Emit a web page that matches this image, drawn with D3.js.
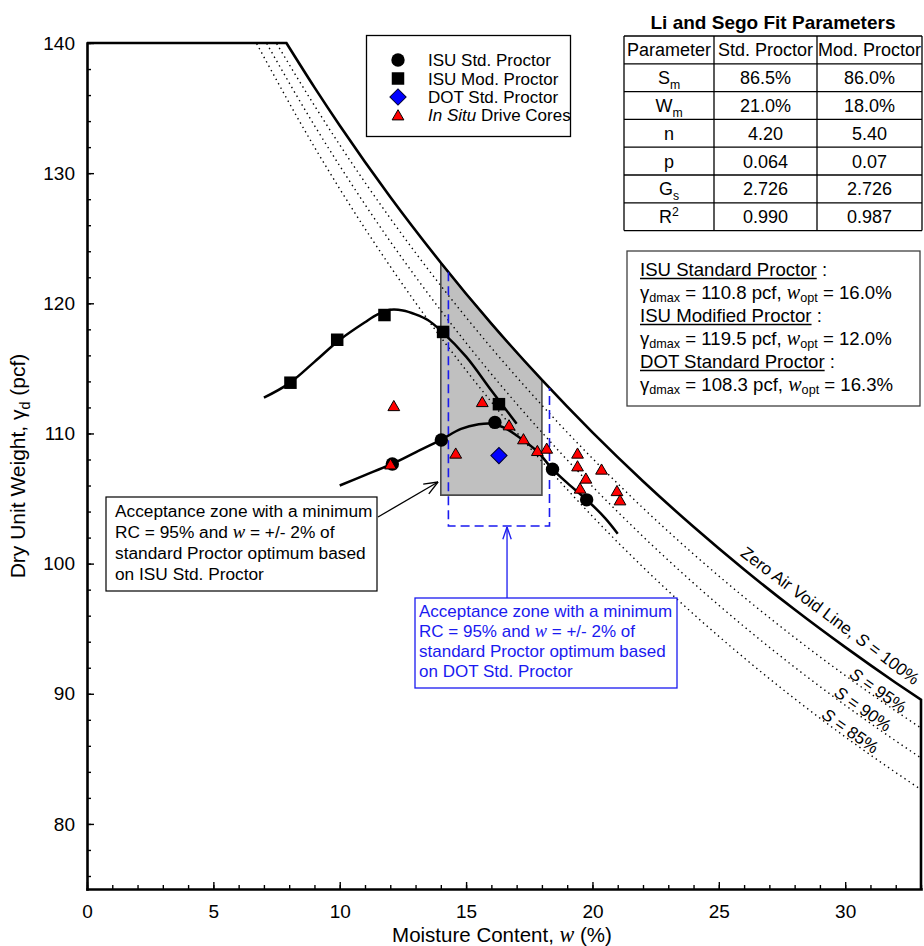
<!DOCTYPE html>
<html>
<head>
<meta charset="utf-8">
<script src="https://cdn.jsdelivr.net/npm/d3@7"></script>
<style>
  body { margin: 0; background: #fff; }
  svg { display: block; font-family: Arial, "Liberation Sans", sans-serif; }
  .axis text { font-size: 19px; fill: #000; }
</style>
</head>
<body>
<svg id="chart" width="924" height="946"></svg>
<script>
// ---------- measured compaction points ----------
const wStdProctor = [12.08, 14.02, 16.14, 18.42, 19.77];
const gStdProctor = [107.65, 109.5, 110.85, 107.25, 104.9];
const wModProctor = [8.05, 9.9, 11.77, 14.09, 16.3];
const gModProctor = [113.9, 117.2, 119.1, 117.8, 112.25];
const wDotProctor = [16.3];
const gDotProctor = [108.3];
const wDriveCores = [12.14, 15.64, 16.70, 17.27, 14.59, 17.82, 18.19, 19.41, 19.41, 20.36, 19.74, 19.51, 20.97, 21.09, 12.01];
const gDriveCores = [112.13, 112.44, 110.65, 109.58, 108.48, 108.68, 108.86, 108.48, 107.5, 107.25, 106.56, 105.79, 105.6, 104.89, 107.65];

// ---------- Li and Sego fitted curves ----------
const wStdFit = [10.0, 11.0, 12.0, 13.0, 14.0, 14.8, 15.5, 16.0, 16.5, 17.0, 17.8, 18.4, 19.0, 19.8, 20.5, 21.0];
const gStdFit = [106.0, 106.8, 107.6, 108.55, 109.5, 110.35, 110.7, 110.75, 110.45, 109.85, 108.65, 107.3, 106.2, 104.85, 103.5, 102.3];
const wModFit = [7.0, 8.0, 9.0, 10.0, 11.0, 11.5, 12.0, 12.5, 13.0, 13.5, 14.0, 15.0, 16.0, 17.0];
const gModFit = [112.75, 113.85, 115.5, 117.2, 118.55, 119.15, 119.5, 119.45, 119.15, 118.7, 117.9, 115.9, 113.3, 110.75];

// ---------- saturation lines (Gs = 2.726) ----------
const satMoisture = [9, 10, 12, 14, 16, 18, 20, 22, 24, 26, 28, 30, 32, 33];
const satCaps = { zav: 7.89, s95: 7.49, s90: 7.10, s85: 6.70 }; // moisture where each line meets 140 pcf
const gZav = [136.59, 133.66, 128.17, 123.12, 118.44, 114.11, 110.08, 106.33, 102.83, 99.55, 96.47, 93.58, 90.85, 89.55];
const gS95 = [135.19, 132.17, 126.53, 121.35, 116.58, 112.17, 108.08, 104.27, 100.73, 97.42, 94.32, 91.41, 88.68, 87.37];
const gS90 = [133.66, 130.56, 124.75, 119.45, 114.57, 110.08, 105.93, 102.08, 98.50, 95.16, 92.04, 89.12, 86.38, 85.07];
const gS85 = [132.00, 128.79, 122.83, 117.39, 112.42, 107.85, 103.63, 99.73, 96.12, 92.76, 89.62, 86.69, 83.95, 82.64];

// ---------- acceptance zones ----------
const wIsuZone = [14, 14, 15, 16, 17, 18, 18];
const gIsuZone = [105.26, 123.12, 120.73, 118.44, 116.23, 114.11, 105.26];
const wDotZone = [14.3, 14.3, 18.3, 18.3];
const gDotZone = [122.39, 102.89, 102.89, 113.49];

// ---------- ticks ----------
const xMajorTicks = [0, 5, 10, 15, 20, 25, 30];
const yMajorTicks = [80, 90, 100, 110, 120, 130, 140];
const xMinorTicks = d3.range(0, 34, 1);
const yMinorTicks = d3.range(76, 141, 2);

// ---------- fit parameter table ----------
const fitParamNames = [["S", "m", "sub"], ["W", "m", "sub"], ["n"], ["p"], ["G", "s", "sub"], ["R", "2", "sup"]];
const fitStd = ["86.5%", "21.0%", "4.20", "0.064", "2.726", "0.990"];
const fitMod = ["86.0%", "18.0%", "5.40", "0.07", "2.726", "0.987"];

// ---------- Proctor summary ----------
const summaryNames = ["ISU Standard Proctor", "ISU Modified Proctor", "DOT Standard Proctor"];
const summaryGdmax = [110.8, 119.5, 108.3];
const summaryWopt = [16.0, 12.0, 16.3];

const legendLabels = ["ISU Std. Proctor", "ISU Mod. Proctor", "DOT Std. Proctor", "Drive Cores"];

const SERIF = "'Liberation Serif', 'Times New Roman', serif";
const BLUE = "#1a1af0";

const svg = d3.select("#chart");
const x = d3.scaleLinear().domain([0, 33]).range([87, 921]);
const y = d3.scaleLinear().domain([75, 140]).range([889, 43]);
const pairs = (ws, gs) => ws.map((w, i) => [w, gs[i]]);
const straight = d3.line().x(d => x(d[0])).y(d => y(d[1]));
const smooth = d3.line().x(d => x(d[0])).y(d => y(d[1])).curve(d3.curveMonotoneX);
const fitted = d3.line().x(d => x(d[0])).y(d => y(d[1])).curve(d3.curveCatmullRom.alpha(0.5));

// rich text helper: parts are [string, kind]; subDrop sets the subscript offset
function rich(sel, parts, subDrop = 4.5) {
  let shift = 0;
  parts.forEach(([s, kind]) => {
    const t = sel.append("tspan").text(s);
    let target = 0;
    if (kind === "sub") { target = subDrop; t.attr("font-size", "0.68em"); }
    else if (kind === "sup") { target = -7; t.attr("font-size", "0.68em"); }
    else if (kind === "w") { t.attr("font-family", SERIF).attr("font-style", "italic").attr("font-size", "1.08em"); }
    else if (kind === "i") { t.attr("font-style", "italic"); }
    if (target !== shift) { t.attr("dy", target - shift); shift = target; }
  });
  return sel;
}

function arrow(g, x1, y1, x2, y2, color, len, ang) {
  const a = Math.atan2(y2 - y1, x2 - x1);
  g.append("line").attr("x1", x1).attr("y1", y1).attr("x2", x2).attr("y2", y2)
    .attr("stroke", color).attr("stroke-width", 1.3);
  [ang, -ang].forEach(d => {
    g.append("line").attr("x1", x2).attr("y1", y2)
      .attr("x2", x2 - len * Math.cos(a + d)).attr("y2", y2 - len * Math.sin(a + d))
      .attr("stroke", color).attr("stroke-width", 1.3);
  });
}

// ---------- ISU acceptance zone ----------
svg.append("path")
  .attr("d", straight(pairs(wIsuZone, gIsuZone)) + "Z")
  .attr("fill", "#c0c0c0").attr("stroke", "#4a4a4a").attr("stroke-width", 1.6);

// ---------- saturation lines ----------
function satPath(cap, gs, drop) {
  const p = [[cap, 140], ...pairs(satMoisture, gs)];
  let d = `M${x(0)},${y(140)}L` + smooth(p).slice(1);
  if (drop) d += `L${x(33)},${y(75)}`;
  return d;
}
[[satCaps.s95, gS95], [satCaps.s90, gS90], [satCaps.s85, gS85]].forEach(([c, gs]) => {
  svg.append("path").attr("d", satPath(c, gs, false))
    .attr("fill", "none").attr("stroke", "#000").attr("stroke-width", 1.4)
    .attr("stroke-dasharray", "1.4 3.6");
});
svg.append("path").attr("d", satPath(satCaps.zav, gZav, true))
  .attr("fill", "none").attr("stroke", "#000").attr("stroke-width", 2.6)
  .attr("stroke-linejoin", "miter");

// ---------- DOT acceptance zone ----------
svg.append("path").attr("d", straight(pairs(wDotZone, gDotZone)))
  .attr("fill", "none").attr("stroke", BLUE).attr("stroke-width", 1.6)
  .attr("stroke-dasharray", "9 5");

// ---------- fitted curves ----------
[[wModFit, gModFit], [wStdFit, gStdFit]].forEach(([ws, gs]) => {
  svg.append("path").attr("d", fitted(pairs(ws, gs)))
    .attr("fill", "none").attr("stroke", "#000").attr("stroke-width", 2.5);
});

// ---------- markers ----------
const symCircle = d3.symbol().type(d3.symbolCircle).size(Math.PI * 6.7 * 6.7);
const symSquare = d3.symbol().type(d3.symbolSquare).size(12.5 * 12.5);
const symDiamond = d3.symbol().type(d3.symbolSquare).size(11.5 * 11.5);
const symTriangle = d3.symbol().type(d3.symbolTriangle).size(60);

function drawMarkers(ws, gs, sym, fill, stroke, rot) {
  svg.append("g").selectAll("path").data(pairs(ws, gs)).join("path")
    .attr("d", sym())
    .attr("transform", d => `translate(${x(d[0])},${y(d[1])})` + (rot ? ` rotate(${rot})` : ""))
    .attr("fill", fill).attr("stroke", stroke).attr("stroke-width", stroke === "none" ? 0 : 1);
}
drawMarkers(wStdProctor, gStdProctor, symCircle, "#000", "none");
drawMarkers(wModProctor, gModProctor, symSquare, "#000", "none");
drawMarkers(wDotProctor, gDotProctor, symDiamond, "#0000ff", "#000030", 45);
svg.append("g").selectAll("path").data(pairs(wDriveCores, gDriveCores)).join("path")
  .attr("d", symTriangle())
  .attr("transform", d => `translate(${x(d[0])},${y(d[1]) + 1.5})`)
  .attr("fill", "#ff0000").attr("stroke", "#000").attr("stroke-width", 1);

// ---------- axes ----------
function styleAxis(g, major) {
  g.selectAll(".tick line").attr("stroke", "#000").attr("stroke-width", 1.4);
  g.select(".domain").attr("stroke", major ? "#000" : "none").attr("stroke-width", 2.6)
    .attr("stroke-linecap", "square");
  g.selectAll("text").attr("font-family", "Arial, 'Liberation Sans', sans-serif");
}
svg.append("g").attr("transform", `translate(0,${y(75)})`)
  .call(d3.axisBottom(x).tickValues(xMinorTicks).tickSize(-4).tickSizeOuter(0).tickFormat(""))
  .call(g => styleAxis(g, false));
svg.append("g").attr("transform", `translate(${x(0)},0)`)
  .call(d3.axisLeft(y).tickValues(yMinorTicks).tickSize(-4).tickSizeOuter(0).tickFormat(""))
  .call(g => styleAxis(g, false));
svg.append("g").attr("class", "axis").attr("transform", `translate(0,${y(75)})`)
  .call(d3.axisBottom(x).tickValues(xMajorTicks).tickSize(-7).tickSizeOuter(0).tickPadding(16).tickFormat(d3.format("d")))
  .call(g => styleAxis(g, true));
svg.append("g").attr("class", "axis").attr("transform", `translate(${x(0)},0)`)
  .call(d3.axisLeft(y).tickValues(yMajorTicks).tickSize(-7).tickSizeOuter(0).tickPadding(12).tickFormat(d3.format("d")))
  .call(g => styleAxis(g, true));

// axis titles
rich(svg.append("text").attr("x", (x(0) + x(33)) / 2 - 2).attr("y", 942)
  .attr("text-anchor", "middle").attr("font-size", 20.5),
  [["Moisture Content, "], ["w", "w"], [" (%)"]]);
rich(svg.append("text").attr("transform", `translate(25,${(y(75) + y(140)) / 2}) rotate(-90)`)
  .attr("text-anchor", "middle").attr("font-size", 21),
  [["Dry Unit Weight, γ"], ["d", "sub"], [" (pcf)"]]);

// ---------- saturation line labels ----------
function angleAt(ws, gs, i, j) {
  return Math.atan2(y(gs[j]) - y(gs[i]), x(ws[j]) - x(ws[i])) * 180 / Math.PI;
}
const zavAng = angleAt(satMoisture, gZav, 9, 12);
rich(svg.append("text")
  .attr("transform", `translate(${x(33)},${y(gZav[13])}) rotate(${zavAng})`)
  .attr("x", -14).attr("y", -7).attr("text-anchor", "end").attr("font-size", 17),
  [["Zero Air Void Line, "], ["S", "i"], [" = 100%"]]);
[[gS95, 30.1, "95%"], [gS90, 29.5, "90%"], [gS85, 29.0, "85%"]].forEach(([gs, w0, lbl]) => {
  const interp = d3.scaleLinear().domain(satMoisture).range(gs);
  const ang = angleAt(satMoisture, gs, 11, 12);
  rich(svg.append("text")
    .attr("transform", `translate(${x(w0)},${y(interp(w0))}) rotate(${ang})`)
    .attr("y", -1).attr("font-size", 17),
    [["S", "i"], [" = " + lbl]]);
});

// ---------- legend ----------
const leg = svg.append("g");
leg.append("rect").attr("x", 366.5).attr("y", 35.5).attr("width", 204).attr("height", 101)
  .attr("fill", "#fff").attr("stroke", "#000").attr("stroke-width", 1.3);
const legY = [60, 78.5, 97, 115];
leg.append("path").attr("d", symCircle()).attr("transform", `translate(398,${legY[0]})`).attr("fill", "#000");
leg.append("path").attr("d", symSquare()).attr("transform", `translate(398,${legY[1]})`).attr("fill", "#000");
leg.append("path").attr("d", symDiamond()).attr("transform", `translate(398,${legY[2]}) rotate(45)`)
  .attr("fill", "#0000ff").attr("stroke", "#000030").attr("stroke-width", 1);
leg.append("path").attr("d", symTriangle()).attr("transform", `translate(398,${legY[3] + 1.5})`)
  .attr("fill", "#ff0000").attr("stroke", "#000").attr("stroke-width", 1);
legendLabels.forEach((l, i) => {
  const t = leg.append("text").attr("x", 428).attr("y", legY[i] + 6).attr("font-size", 17);
  if (i === 3) rich(t, [["In Situ", "i"], [" " + l]]);
  else t.text(l);
});

// ---------- fit parameter table ----------
const tab = svg.append("g");
const colX = [624, 714, 817, 922];
const rowY = d3.range(8).map(i => 36 + i * 27.8);
tab.append("text").attr("x", (colX[0] + colX[3]) / 2).attr("y", 29).attr("text-anchor", "middle")
  .attr("font-size", 19).attr("font-weight", "bold").text("Li and Sego Fit Parameters");
colX.forEach(cx => tab.append("line").attr("x1", cx).attr("x2", cx).attr("y1", rowY[0]).attr("y2", rowY[7])
  .attr("stroke", "#000").attr("stroke-width", 1.3));
rowY.forEach(ry => tab.append("line").attr("x1", colX[0]).attr("x2", colX[3]).attr("y1", ry).attr("y2", ry)
  .attr("stroke", "#000").attr("stroke-width", 1.3));
const cellText = (c, r) => tab.append("text")
  .attr("x", (colX[c] + colX[c + 1]) / 2).attr("y", (rowY[r] + rowY[r + 1]) / 2 + 6.5)
  .attr("text-anchor", "middle").attr("font-size", 18);
cellText(0, 0).text("Parameter");
cellText(1, 0).text("Std. Proctor");
cellText(2, 0).text("Mod. Proctor");
fitParamNames.forEach((p, i) => {
  const parts = [[p[0]]];
  if (p.length > 1) parts.push([p[1], p[2]]);
  rich(cellText(0, i + 1), parts);
  cellText(1, i + 1).text(fitStd[i]);
  cellText(2, i + 1).text(fitMod[i]);
});

// ---------- Proctor summary box ----------
const sb = svg.append("g");
sb.append("rect").attr("x", 627).attr("y", 251).attr("width", 293).attr("height", 155)
  .attr("fill", "#fff").attr("stroke", "#404040").attr("stroke-width", 1.3);
summaryNames.forEach((name, i) => {
  const by = 276 + i * 46;
  const t = sb.append("text").attr("x", 640).attr("y", by).attr("font-size", 18.6);
  const nm = t.append("tspan").text(name);
  t.append("tspan").text(" :");
  const len = nm.node().getComputedTextLength();
  sb.append("line").attr("x1", 640).attr("x2", 640 + len).attr("y1", by + 2.5).attr("y2", by + 2.5)
    .attr("stroke", "#000").attr("stroke-width", 1.4);
  rich(sb.append("text").attr("x", 640).attr("y", by + 22.5).attr("font-size", 18.6),
    [["γ"], ["dmax", "sub"], [` = ${summaryGdmax[i].toFixed(1)} pcf, `], ["w", "w"], ["opt", "sub"],
     [` = ${summaryWopt[i].toFixed(1)}%`]], 3.5);
});

// ---------- annotations ----------
const an = svg.append("g");
an.append("rect").attr("x", 106).attr("y", 497).attr("width", 271).attr("height", 94)
  .attr("fill", "#fff").attr("stroke", "#000").attr("stroke-width", 1.2);
const isuLines = [
  [["Acceptance zone with a minimum"]],
  [["RC = 95% and "], ["w", "w"], [" = +/- 2% of"]],
  [["standard Proctor optimum based"]],
  [["on ISU Std. Proctor"]]
];
isuLines.forEach((ln, i) => rich(an.append("text").attr("x", 115).attr("y", 517 + i * 21).attr("font-size", 17.3), ln));
arrow(an, 378, 517, x(13.89), y(106.27), "#000", 15, 0.38);

an.append("rect").attr("x", 415).attr("y", 598).attr("width", 262).attr("height", 90)
  .attr("fill", "#fff").attr("stroke", BLUE).attr("stroke-width", 1.3);
const dotLines = [
  [["Acceptance zone with a minimum"]],
  [["RC = 95% and "], ["w", "w"], [" = +/- 2% of"]],
  [["standard Proctor optimum based"]],
  [["on DOT Std. Proctor"]]
];
dotLines.forEach((ln, i) => rich(an.append("text").attr("x", 419).attr("y", 617 + i * 20)
  .attr("font-size", 17).attr("fill", BLUE), ln));
arrow(an, x(16.62), 598, x(16.62), y(102.89) + 1, BLUE, 13, 0.33);
</script>
</body>
</html>
